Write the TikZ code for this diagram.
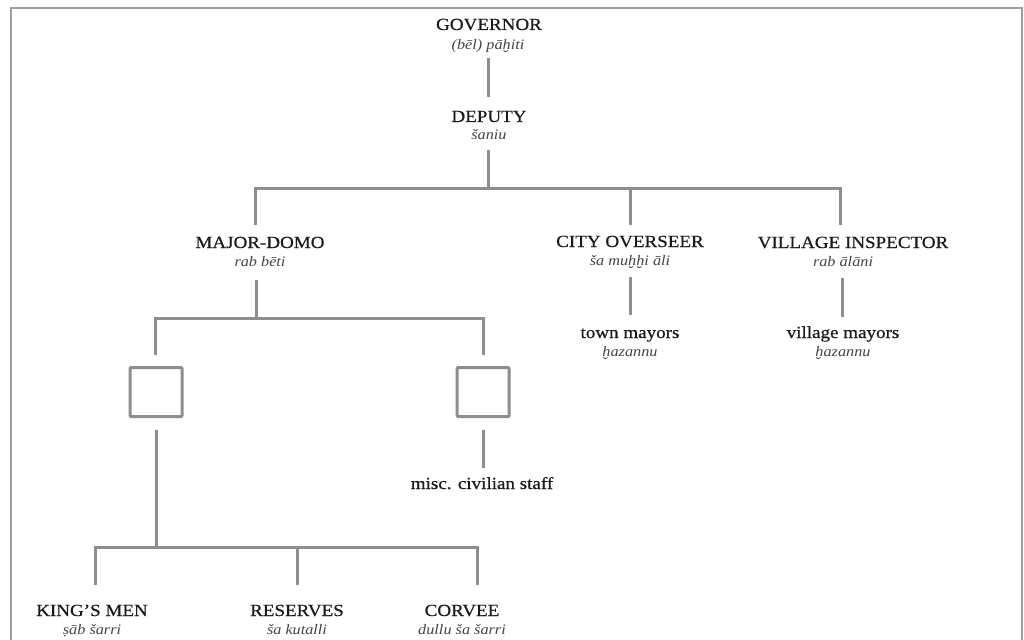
\documentclass[tikz,border=0pt]{standalone}
\usepackage{fontspec}
\setmainfont[FakeStretch=1.12]{Liberation Serif}
\newfontfamily\titlefont[FakeStretch=1.12,FakeBold=0.6]{Liberation Serif}
\definecolor{linegray}{HTML}{8E8E8E}
\definecolor{framegray}{HTML}{A0A0A0}
\definecolor{subgray}{HTML}{444444}
\definecolor{titleblack}{HTML}{1A1A1A}
\tikzset{
  title/.style={anchor=base,inner sep=0pt,text=titleblack,font=\titlefont\fontsize{17}{20}\selectfont},
  subtitle/.style={anchor=base,inner sep=0pt,text=subgray,font=\itshape\fontsize{14.5}{16}\selectfont},
  conn/.style={draw=linegray,line width=3pt},
  emptybox/.style={draw=linegray,line width=3pt,minimum width=52pt,minimum height=49pt,inner sep=0pt,rounded corners=1pt},
  frameline/.style={draw=framegray,line width=2pt}
}
\begin{document}
\begin{tikzpicture}[x=1pt,y=-1pt]
\useasboundingbox (0,0) rectangle (1024,639);
\draw[frameline] (11,645) -- (11,8) -- (1022,8) -- (1022,645);
% titles
\node[title] (gov) at (489,30) {GOVERNOR};
\node[subtitle] (govs) at (488,50) {(bēl) pāḫiti};
\node[title] (dep) at (489,122) {DEPUTY};
\node[subtitle] (deps) at (489,140) {šaniu};
\node[title] (maj) at (260,248) {MAJOR-DOMO};
\node[subtitle] (majs) at (260,266) {rab bēti};
\node[title] (city) at (630,247) {CITY OVERSEER};
\node[subtitle] (citys) at (630,265) {ša muḫḫi āli};
\node[title] (vil) at (853,248) {VILLAGE INSPECTOR};
\node[subtitle] (vils) at (843,266) {rab ālāni};
\node[title] (town) at (630,338) {town mayors};
\node[subtitle] (towns) at (630,356) {ḫazannu};
\node[title] (vmay) at (843,338) {village mayors};
\node[subtitle] (vmays) at (843,356) {ḫazannu};
\node[title] (misc) at (482,489) {misc. civilian staff};
\node[title] (king) at (92,616) {KING’S MEN};
\node[subtitle] (kings) at (92,634) {ṣāb šarri};
\node[title] (res) at (297,616) {RESERVES};
\node[subtitle] (ress) at (297,634) {ša kutalli};
\node[title] (cor) at (462,616) {CORVEE};
\node[subtitle] (cors) at (462,634) {dullu ša šarri};
% boxes
\node[emptybox] (boxl) at (156,392) {};
\node[emptybox] (boxr) at (483,392) {};
% connector points
\coordinate (g1) at (488,58); \coordinate (g2) at (488,97);
\coordinate (d1) at (488,150); \coordinate (d2) at (488,188);
\coordinate (m1) at (255,225); \coordinate (m2) at (255,188);
\coordinate (v2) at (840,188); \coordinate (v1) at (840,225);
\coordinate (c2) at (630,188); \coordinate (c1) at (630,225);
\coordinate (ma1) at (256,280); \coordinate (ma2) at (256,318);
\coordinate (bl1) at (155,355); \coordinate (bl2) at (155,318);
\coordinate (br2) at (483,318); \coordinate (br1) at (483,355);
\coordinate (rb1) at (483,430); \coordinate (rb2) at (483,468);
\coordinate (lb1) at (156,430); \coordinate (lb2) at (156,547);
\coordinate (k1) at (95,585); \coordinate (k2) at (95,547);
\coordinate (co2) at (477,547); \coordinate (co1) at (477,585);
\coordinate (r2) at (297,547); \coordinate (r1) at (297,585);
\coordinate (ct1) at (630,277); \coordinate (ct2) at (630,315);
\coordinate (vt1) at (842,278); \coordinate (vt2) at (842,317);
% connectors
\draw[conn] (g1) -- (g2);
\draw[conn] (d1) -- (d2);
\draw[conn] (m1) -- (m2) -- (v2) -- (v1);
\draw[conn] (c2) -- (c1);
\draw[conn] (ma1) -- (ma2);
\draw[conn] (bl1) -- (bl2) -- (br2) -- (br1);
\draw[conn] (rb1) -- (rb2);
\draw[conn] (lb1) -- (lb2);
\draw[conn] (k1) -- (k2) -- (co2) -- (co1);
\draw[conn] (r2) -- (r1);
\draw[conn] (ct1) -- (ct2);
\draw[conn] (vt1) -- (vt2);
\end{tikzpicture}
\end{document}
